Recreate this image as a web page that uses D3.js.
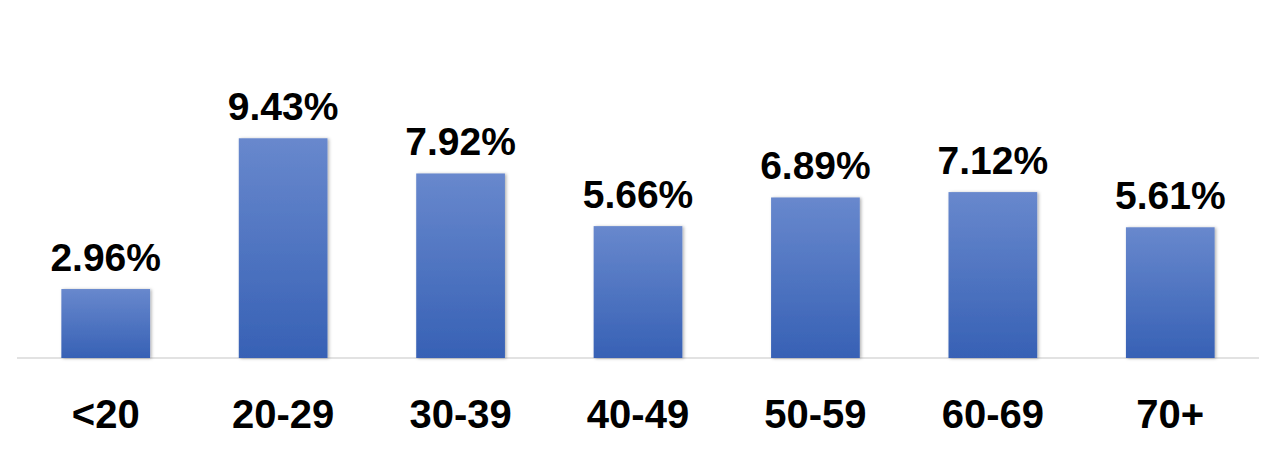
<!DOCTYPE html>
<html>
<head>
<meta charset="utf-8">
<script src="https://cdn.jsdelivr.net/npm/d3@7"></script>
<style>
  html, body { margin: 0; padding: 0; background: #ffffff; }
  svg { display: block; }
</style>
</head>
<body>
<svg id="chart" width="1284" height="452"></svg>
<script>
const categories = ["<20", "20-29", "30-39", "40-49", "50-59", "60-69", "70+"];
const values = [2.96, 9.43, 7.92, 5.66, 6.89, 7.12, 5.61];
const valueLabels = ["2.96%", "9.43%", "7.92%", "5.66%", "6.89%", "7.12%", "5.61%"];

const svg = d3.select("#chart");
const left = 17, right = 1259, baseline = 358;

const x = d3.scaleBand().domain(categories).range([left, right]).paddingInner(0.5).paddingOuter(0.25);
const y = d3.scaleLinear().domain([0, 10]).range([baseline, baseline - 233]);

const defs = svg.append("defs");
const grad = defs.append("linearGradient").attr("id", "barGrad")
  .attr("x1", 0).attr("y1", 0).attr("x2", 0).attr("y2", 1);
grad.append("stop").attr("offset", "0%").attr("stop-color", "#6888cd");
grad.append("stop").attr("offset", "100%").attr("stop-color", "#3761b5");

const filt = defs.append("filter").attr("id", "shadow")
  .attr("x", "-10%").attr("y", "-10%").attr("width", "125%").attr("height", "125%");
filt.append("feDropShadow").attr("dx", 1.5).attr("dy", 0.5).attr("stdDeviation", 1.4)
  .attr("flood-color", "#000").attr("flood-opacity", 0.3);

// axis line
const xAxis = d3.axisBottom(x).tickSize(0).tickPadding(0).tickFormat(() => "");
const ax = svg.append("g").attr("transform", `translate(0,${baseline})`).call(xAxis);
ax.select(".domain").attr("stroke", "#d9d9d9").attr("stroke-width", 1.5)
  .attr("d", `M${left},0H${right}`);

// bars
svg.append("g").selectAll("rect").data(values).join("rect")
  .attr("x", (d, i) => x(categories[i]))
  .attr("width", x.bandwidth())
  .attr("y", d => y(d))
  .attr("height", d => baseline - y(d))
  .attr("fill", "url(#barGrad)")
  .attr("filter", "url(#shadow)");

// value labels
svg.append("g").selectAll("text").data(values).join("text")
  .attr("x", (d, i) => x(categories[i]) + x.bandwidth() / 2)
  .attr("y", d => y(d) - 18)
  .attr("text-anchor", "middle")
  .attr("font-family", "'Liberation Sans', Arial, sans-serif")
  .attr("font-weight", "bold")
  .attr("font-size", 39)
  .attr("fill", "#000")
  .text((d, i) => valueLabels[i]);

// category labels
svg.append("g").selectAll("text").data(categories).join("text")
  .attr("x", d => x(d) + x.bandwidth() / 2)
  .attr("y", 428)
  .attr("text-anchor", "middle")
  .attr("font-family", "'Liberation Sans', Arial, sans-serif")
  .attr("font-weight", "bold")
  .attr("font-size", 40)
  .attr("fill", "#000")
  .text(d => d);
</script>
</body>
</html>
